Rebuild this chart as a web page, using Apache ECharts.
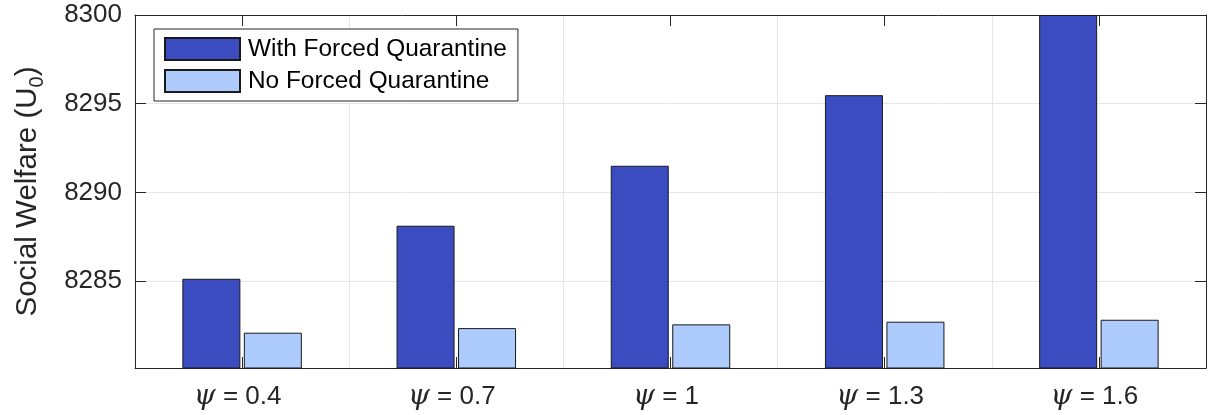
<!DOCTYPE html>
<html>
<head>
<meta charset="utf-8">
<script src="https://cdn.jsdelivr.net/npm/echarts@6/dist/echarts.min.js"></script>
<style>
html,body{margin:0;padding:0;background:#fff;}
#chart{width:1214px;height:415px;}
</style>
</head>
<body>
<div id="chart"></div>
<script>
var psiValues = ['0.4', '0.7', '1', '1.3', '1.6'];
var withForced = [8285.13, 8288.12, 8291.50, 8295.48, 8300.0];
var noForced = [8282.09, 8282.35, 8282.56, 8282.71, 8282.82];
var seriesNames = ['With Forced Quarantine', 'No Forced Quarantine'];
var yMin = 8280.1, yMax = 8300;

var FONT = '"Liberation Sans", Arial, Helvetica, sans-serif';
var AX = '#262626';

var chart = echarts.init(document.getElementById('chart'), null, {renderer: 'canvas'});
var option = {
  animation: false,
  backgroundColor: '#ffffff',
  grid: {left: 135, right: 8, top: 15, bottom: 47, containLabel: false, outerBoundsMode: 'none'},
  legend: {
    orient: 'vertical',
    left: 154, top: 29,
    itemWidth: 75, itemHeight: 22, itemGap: 8,
    padding: [8, 11, 8, 10],
    backgroundColor: '#ffffff',
    borderColor: AX, borderWidth: 1, borderRadius: 0,
    icon: 'rect',
    textStyle: {fontFamily: FONT, fontSize: 24.4, color: '#000', padding: [0, 0, 0, 3]},
    data: seriesNames
  },
  xAxis: [{
    type: 'category',
    data: psiValues,
    boundaryGap: true,
    axisLine: {show: true, lineStyle: {color: AX, width: 1}},
    axisTick: {show: true, inside: true, alignWithLabel: true, interval: 0, length: 11, lineStyle: {color: AX}},
    splitLine: {show: true, interval: 0, lineStyle: {color: '#e6e6e6', width: 1}},
    axisLabel: {
      margin: 15,
      interval: 0,
      hideOverlap: false,
      formatter: function (v) { return '{psi|ψ} = ' + v + '{pad|}'; },
      rich: {
        psi: {fontFamily: '"DejaVu Serif", "Liberation Serif", serif', fontStyle: 'italic', fontSize: 28, color: AX},
        pad: {width: 9, fontSize: 26}
      },
      fontFamily: FONT, fontSize: 26, color: AX
    }
  }, {
    type: 'category',
    data: psiValues,
    position: 'top',
    boundaryGap: true,
    axisLine: {show: true, lineStyle: {color: AX, width: 1}},
    axisTick: {show: true, inside: true, alignWithLabel: true, interval: 0, length: 11, lineStyle: {color: AX}},
    axisLabel: {show: false},
    splitLine: {show: false}
  }],
  yAxis: [{
    type: 'value',
    min: yMin, max: yMax, splitNumber: 4,
    name: 'Social Welfare (U{sub|0})',
    nameLocation: 'middle',
    nameRotate: 90,
    nameGap: 88,
    nameTextStyle: {
      fontFamily: FONT, fontSize: 29.5, color: AX,
      rich: {sub: {fontFamily: FONT, fontSize: 20, color: AX, verticalAlign: 'bottom', padding: [19, 0, 0, 0]}}
    },
    axisLine: {show: true, lineStyle: {color: AX, width: 1}},
    axisTick: {show: true, inside: true, length: 11, lineStyle: {color: AX}},
    splitLine: {show: true, lineStyle: {color: '#e6e6e6', width: 1}},
    axisLabel: {
      margin: 13,
      fontFamily: FONT, fontSize: 26, color: AX,
      formatter: function (v) { return (Math.abs(v % 5) < 1e-6) ? String(Math.round(v)) : ''; }
    }
  }, {
    type: 'value',
    position: 'right',
    min: yMin, max: yMax, splitNumber: 4,
    axisLine: {show: true, lineStyle: {color: AX, width: 1}},
    axisTick: {show: true, inside: true, length: 11, lineStyle: {color: AX}},
    splitLine: {show: false},
    axisLabel: {show: false}
  }],
  series: [{
    name: seriesNames[0],
    type: 'bar',
    data: withForced,
    barWidth: 58,
    barGap: '6%',
    itemStyle: {color: '#3B4CC0', borderColor: '#1a1a1a', borderWidth: 1}
  }, {
    name: seriesNames[1],
    type: 'bar',
    data: noForced,
    barWidth: 58,
    barGap: '6%',
    itemStyle: {color: '#ADCBFC', borderColor: '#1a1a1a', borderWidth: 1}
  }]
};
chart.setOption(option);
</script>
</body>
</html>
